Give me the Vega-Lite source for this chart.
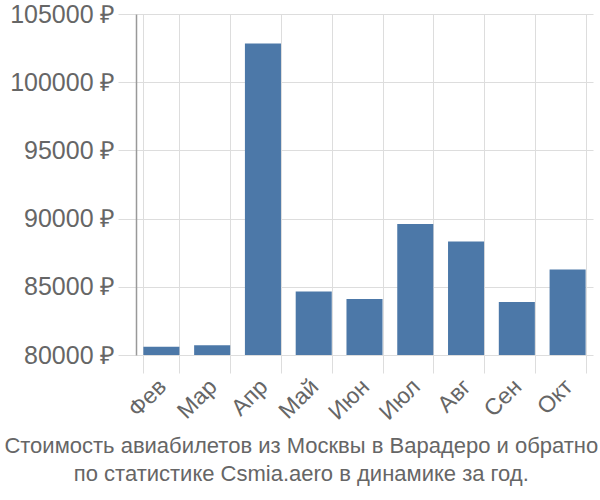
{
  "$schema": "https://vega.github.io/schema/vega-lite/v6.json",
  "width": 457,
  "height": 341,
  "autosize": "none",
  "padding": {"left": 136, "top": 14, "right": 7, "bottom": 145},
  "config": {"view": {"stroke": null}, "font": "Liberation Sans"},
  "title": {
    "text": ["Стоимость авиабилетов из Москвы в Варадеро и обратно", "по статистике Csmia.aero в динамике за год."],
    "orient": "bottom",
    "anchor": "middle",
    "frame": "bounds",
    "fontSize": 22,
    "fontWeight": "normal",
    "color": "#666666",
    "lineHeight": 28,
    "offset": 12
  },
  "data": {
    "values": [
      {"month": "Фев", "price": 80610},
      {"month": "Мар", "price": 80710},
      {"month": "Апр", "price": 102830},
      {"month": "Май", "price": 84650},
      {"month": "Июн", "price": 84110},
      {"month": "Июл", "price": 89600},
      {"month": "Авг", "price": 88320},
      {"month": "Сен", "price": 83890},
      {"month": "Окт", "price": 86260}
    ]
  },
  "mark": {"type": "bar", "clip": true, "color": "#4c78a8"},
  "encoding": {
    "x": {
      "field": "month",
      "type": "nominal",
      "sort": null,
      "scale": {"paddingInner": 0.29, "paddingOuter": 0.145},
      "axis": {
        "title": null,
        "labelAngle": -45,
        "labelFontSize": 23,
        "labelColor": "#666666",
        "grid": true,
        "gridColor": "#dddddd",
        "tickBand": "extent",
        "tickSize": 18,
        "tickColor": "#dddddd",
        "domain": false,
        "labelPadding": 2,
        "labelOffset": -7
      }
    },
    "y": {
      "field": "price",
      "type": "quantitative",
      "scale": {"domain": [80000, 105000], "zero": false, "nice": false},
      "axis": {
        "title": null,
        "values": [80000, 85000, 90000, 95000, 100000, 105000],
        "labelExpr": "datum.value + ' ₽'",
        "labelFontSize": 25,
        "labelColor": "#666666",
        "gridColor": "#dddddd",
        "tickColor": "#dddddd",
        "tickSize": 18,
        "domainColor": "#999999",
        "domainWidth": 1.5,
        "labelPadding": 3
      }
    }
  }
}
